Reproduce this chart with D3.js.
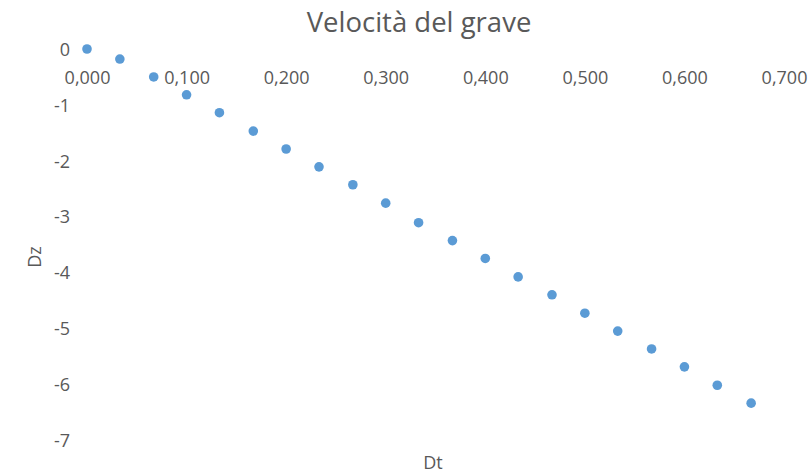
<!DOCTYPE html>
<html>
<head>
<meta charset="utf-8">
<script src="https://cdn.jsdelivr.net/npm/d3@7"></script>
<style>
  html, body { margin: 0; padding: 0; background: #fff; }
  svg { display: block; }
  text { font-family: "Open Sans", "Noto Sans", sans-serif; fill: #595959; }
</style>
</head>
<body>
<svg id="chart" width="811" height="475"></svg>
<script>
const title = "Velocità del grave";
const xTitle = "Dt";
const yTitle = "Dz";
const dt = [0.000, 0.033, 0.067, 0.100, 0.133, 0.167, 0.200, 0.233, 0.267, 0.300, 0.333,
            0.367, 0.400, 0.433, 0.467, 0.500, 0.533, 0.567, 0.600, 0.633, 0.667];
const dz = [0.00, -0.18, -0.50, -0.82, -1.14, -1.47, -1.79, -2.11, -2.43, -2.76, -3.11,
            -3.43, -3.75, -4.08, -4.40, -4.73, -5.05, -5.37, -5.69, -6.02, -6.34];
const xTicks = [0, 0.1, 0.2, 0.3, 0.4, 0.5, 0.6, 0.7];
const yTicks = [0, -1, -2, -3, -4, -5, -6, -7];

const svg = d3.select("#chart");
const x = d3.scaleLinear().domain([0, 0.7]).range([87, 784]);
const y = d3.scaleLinear().domain([0, -7]).range([49, 440]);
const fmtX = v => v.toFixed(3).replace(".", ",");
const fmtY = v => String(v);

// x axis (at y=0), labels below, no line
const xAxis = d3.axisBottom(x).tickValues(xTicks).tickFormat(fmtX).tickSize(0).tickPadding(0);
const gx = svg.append("g").attr("transform", `translate(0,${y(0)})`).call(xAxis);
gx.select(".domain").remove();
gx.selectAll("text").attr("dy", null).attr("y", 35)
  .style("font-size", "18px").attr("fill", "#595959");

// y axis labels
const yAxis = d3.axisLeft(y).tickValues(yTicks).tickFormat(fmtY).tickSize(0).tickPadding(0);
const gy = svg.append("g").attr("transform", "translate(70,0)").call(yAxis);
gy.select(".domain").remove();
gy.selectAll("text").attr("dy", "0.35em").style("font-size", "18px").attr("fill", "#595959");

// points
svg.append("g").selectAll("circle")
  .data(dt.map((d, i) => ({ t: d, z: dz[i] })))
  .join("circle")
  .attr("cx", d => x(d.t))
  .attr("cy", d => y(d.z))
  .attr("r", 4.8)
  .attr("fill", "#5B9BD5");

// title
svg.append("text").attr("x", 419).attr("y", 32).attr("text-anchor", "middle")
  .style("font-size", "27.5px").text(title);

// axis titles
svg.append("text").attr("x", 433).attr("y", 469).attr("text-anchor", "middle")
  .style("font-size", "18px").text(xTitle);
svg.append("text").attr("transform", "translate(41,257) rotate(-90)").attr("text-anchor", "middle")
  .style("font-size", "18px").text(yTitle);
</script>
</body>
</html>
